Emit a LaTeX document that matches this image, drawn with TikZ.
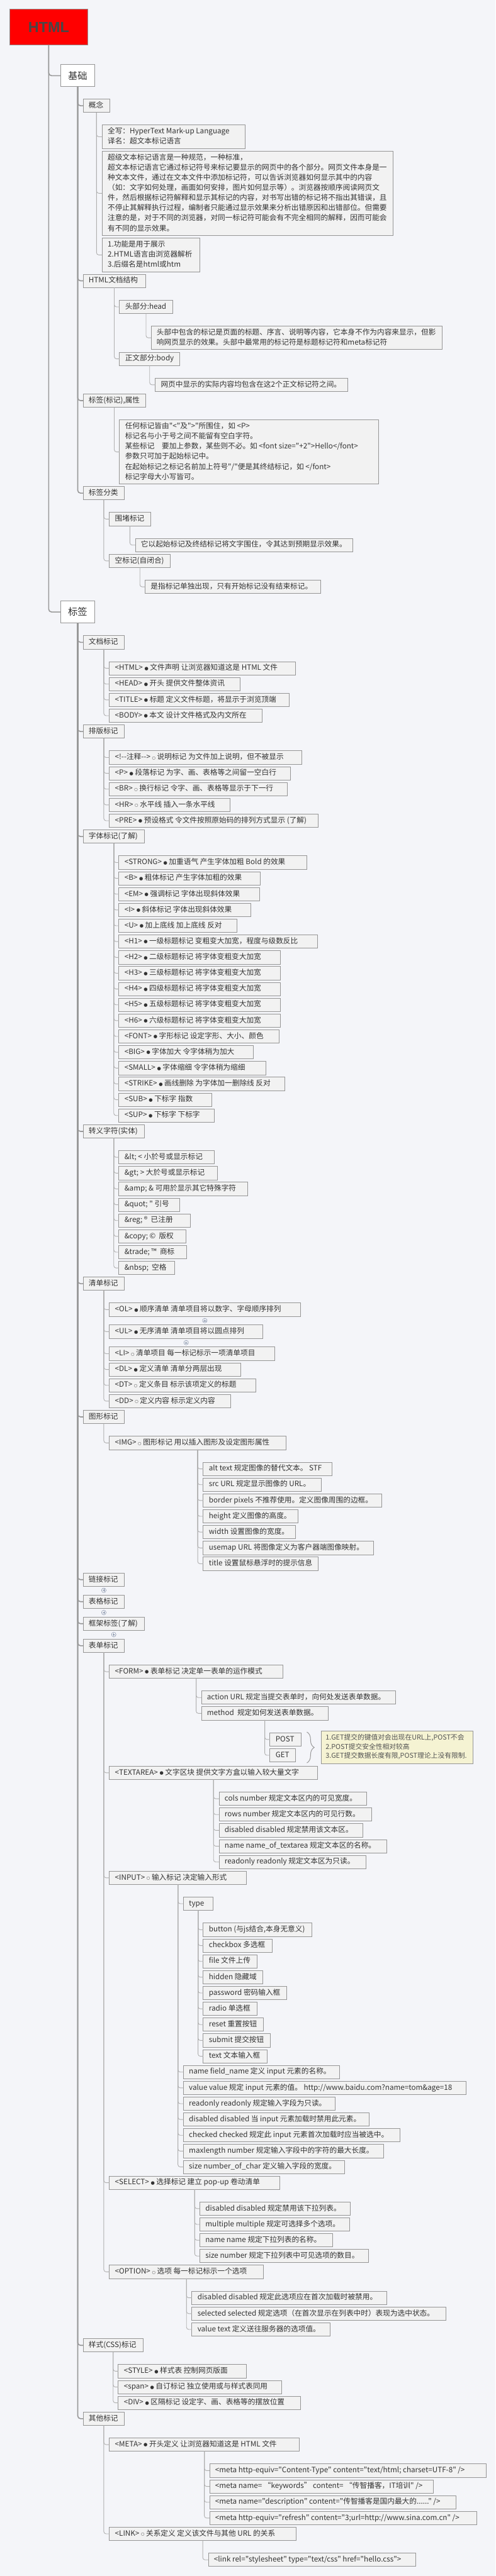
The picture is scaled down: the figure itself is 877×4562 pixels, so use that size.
\documentclass[tikz,border=0pt]{standalone}
\usepackage{fontspec}
\newfontfamily\cjk{Noto Sans CJK SC}
\newfontfamily\dejavu{DejaVu Sans}
\newfontfamily\lib{Liberation Sans}
\usetikzlibrary{decorations.pathreplacing}
\definecolor{bg}{HTML}{F4F5F9}
\definecolor{leaffill}{HTML}{F2F2F2}
\definecolor{boxc}{HTML}{959595}
\definecolor{trunkc}{HTML}{999999}
\definecolor{linec}{HTML}{B0B0B0}
\definecolor{textc}{HTML}{333333}
\definecolor{rootred}{HTML}{FF0000}
\definecolor{roottext}{HTML}{474747}
\definecolor{notefill}{HTML}{F5F3D3}
\definecolor{plusc}{HTML}{7F8CA6}
\newcommand\fb{\raisebox{0.6pt}{\dejavu\fontsize{8}{8}\selectfont ●}}
\newcommand\hb{\raisebox{0.3pt}{\dejavu\fontsize{7}{7}\selectfont ○}}
\tikzset{
  box/.style={draw=boxc, line width=0.9pt, fill=leaffill, text=textc,
    font=\cjk\fontsize{13}{18}\selectfont, inner xsep=10pt, inner ysep=2.8pt,
    anchor=west, outer sep=0pt},
  lvlone/.style={draw=boxc, line width=0.9pt, fill=white, text=textc,
    font=\cjk\fontsize{17}{20}\selectfont, minimum width=61pt, minimum height=39pt,
    inner sep=0pt, anchor=west, outer sep=0pt},
  rootbox/.style={draw=boxc, line width=0.9pt, fill=rootred, text=roottext,
    font=\lib\bfseries\fontsize{26}{26}\selectfont, minimum width=138.7pt,
    minimum height=64pt, inner sep=0pt, anchor=north west, outer sep=0pt},
  notebox/.style={draw=boxc, line width=0.9pt, fill=notefill, text=textc!85,
    font=\cjk\fontsize{12}{16}\selectfont, minimum width=269pt, minimum height=58pt,
    inner xsep=8pt, inner ysep=5pt, anchor=north west, outer sep=0pt},
  trunk/.style={draw=trunkc, line width=1.8pt, rounded corners=5pt},
  conn/.style={draw=linec, line width=1pt, rounded corners=4pt},
  bracestyle/.style={draw=trunkc, line width=1.1pt, decorate,
    decoration={brace, amplitude=13pt, aspect=0.5}},
  plusmark/.style={circle, draw=plusc, fill=white, minimum size=8pt, inner sep=0pt,
    line width=0.6pt, path picture={\draw[plusc, line width=0.6pt]
      ([xshift=-2.4pt]path picture bounding box.center) -- ([xshift=2.4pt]path picture bounding box.center)
      ([yshift=-2.4pt]path picture bounding box.center) -- ([yshift=2.4pt]path picture bounding box.center);}}
}
\newcommand\bx[5]{\node[box] (#1) at (#2,#3)
  {\makebox[\dimexpr#4pt-20pt\relax][l]{\begin{tabular}{@{}l@{}}#5\end{tabular}}};}
\newcommand\kids[2]{\foreach \c in {#2}{\draw[conn] (#1.south) |- (\c.west);}}
\newcommand\tkids[2]{\foreach \c in {#2}{\draw[trunk] (#1.south) |- (\c.west);}}
\begin{document}
\begin{tikzpicture}[x=1pt,y=-1pt]
\useasboundingbox (0,0) rectangle (877,4562);
\fill[bg] (0,0) rectangle (877,4562);

\node[rootbox] (root) at (16.8,16) {HTML};
\node[lvlone] (jc) at (107,134) {基础};
\node[lvlone] (bq) at (107,1083.8) {标签};

% ---------------- 基础 ----------------
\bx{gn}{147}{187.3}{47.6}{概念}
\bx{gn1}{180.6}{242.2}{252.8}{全写：HyperText Mark-up Language\\译名：超文本标记语言}
\bx{gn2}{180.6}{342.3}{514.6}{超级文本标记语言是一种规范，一种标准，\\
超文本标记语言它通过标记符号来标记要显示的网页中的各个部分。网页文件本身是一\\
种文本文件，通过在文本文件中添加标记符，可以告诉浏览器如何显示其中的内容\\
（如：文字如何处理，画面如何安排，图片如何显示等）。浏览器按顺序阅读网页文\\
件，然后根据标记符解释和显示其标记的内容，对书写出错的标记将不指出其错误，且\\
不停止其解释执行过程，编制者只能通过显示效果来分析出错原因和出错部位。但需要\\
注意的是，对于不同的浏览器，对同一标记符可能会有不完全相同的解释，因而可能会\\
有不同的显示效果。}
\bx{gn3}{180.6}{451.5}{172.9}{1.功能是用于展示\\2.HTML语言由浏览器解析\\3.后缀名是html或htm}
\bx{jg}{147}{497.3}{110.3}{HTML文档结构}
\bx{hd}{211.4}{543.5}{94}{头部分:head}
\bx{hdt}{267.3}{598.3}{514.6}{头部中包含的标记是页面的标题、序言、说明等内容，它本身不作为内容来显示，但影\\
响网页显示的效果。头部中最常用的标记符是标题标记符和meta标记符}
\bx{bd}{211.4}{635.5}{106.8}{正文部分:body}
\bx{bdt}{274.6}{681.5}{340.6}{网页中显示的实际内容均包含在这2个正文标记符之间。}
\bx{sx}{147}{709.5}{110.3}{标签(标记),属性}
\bx{sxt}{211.4}{800.3}{458.1}{任何标记皆由"<"及">"所围住，如 <P>\\
标记名与小于号之间不能留有空白字符。\\
某些标记　要加上参数，某些则不必。如 <font size="+2">Hello</font>\\
参数只可加于起始标记中。\\
在起始标记之标记名前加上符号"/"便是其终结标记，如 </font>\\
标记字母大小写皆可。}
\bx{fl}{147}{873.3}{73.4}{标签分类}
\bx{wd}{193.5}{919.3}{72.7}{围堵标记}
\bx{wdt}{239.4}{965.3}{384.8}{它以起始标记及终结标记将文字围住，令其达到预期显示效果。}
\bx{kb}{193.5}{993.3}{108}{空标记(自闭合)}
\bx{kbt}{256.7}{1039.3}{311}{是指标记单独出现，只有开始标记没有结束标记。}

% ---------------- 标签 ----------------
\bx{dm}{147}{1137.5}{73.4}{文档标记}
\bx{dm1}{193.5}{1183.5}{328.9}{<HTML> \fb{} 文件声明 让浏览器知道这是 HTML 文件}
\bx{dm2}{193.5}{1211.5}{231}{<HEAD> \fb{} 开头 提供文件整体资讯}
\bx{dm3}{193.5}{1239.5}{317.7}{<TITLE> \fb{} 标题 定义文件标题，将显示于浏览顶端}
\bx{dm4}{193.5}{1267.5}{270.7}{<BODY> \fb{} 本文 设计文件格式及内文所在}

\bx{pb}{147}{1295.5}{73.4}{排版标记}
\bx{pb1}{193.5}{1341.5}{340.1}{<!--注释--> \hb{} 说明标记 为文件加上说明，但不被显示}
\bx{pb2}{193.5}{1369.5}{319.9}{<P> \fb{} 段落标记 为字、画、表格等之间留一空白行}
\bx{pb3}{193.5}{1397.5}{314.9}{<BR> \hb{} 换行标记 令字、画、表格等显示于下一行}
\bx{pb4}{193.5}{1425.5}{213.1}{<HR> \hb{} 水平线 插入一条水平线}
\bx{pb5}{193.5}{1453.5}{369.7}{<PRE> \fb{} 预设格式 令文件按照原始码的排列方式显示 (了解)}

\bx{zt}{147}{1481.5}{108.6}{字体标记(了解)}
\bx{zt1}{210.3}{1527.5}{332.2}{<STRONG> \fb{} 加重语气 产生字体加粗 Bold 的效果}
\bx{zt2}{210.3}{1555.5}{250}{<B> \fb{} 粗体标记 产生字体加粗的效果}
\bx{zt3}{210.3}{1583.5}{248.9}{<EM> \fb{} 强调标记 字体出现斜体效果}
\bx{zt4}{210.3}{1611.5}{233.2}{<I> \fb{} 斜体标记 字体出现斜体效果}
\bx{zt5}{210.3}{1639.5}{209.2}{<U> \fb{} 加上底线 加上底线 反对}
\bx{zt6}{210.3}{1667.5}{351.2}{<H1> \fb{} 一级标题标记 变粗变大加宽，程度与级数反比}
\bx{zt7}{210.3}{1695.5}{286.3}{<H2> \fb{} 二级标题标记 将字体变粗变大加宽}
\bx{zt8}{210.3}{1723.5}{286.3}{<H3> \fb{} 三级标题标记 将字体变粗变大加宽}
\bx{zt9}{210.3}{1751.5}{286.3}{<H4> \fb{} 四级标题标记 将字体变粗变大加宽}
\bx{zt10}{210.3}{1779.5}{286.3}{<H5> \fb{} 五级标题标记 将字体变粗变大加宽}
\bx{zt11}{210.3}{1807.5}{286.3}{<H6> \fb{} 六级标题标记 将字体变粗变大加宽}
\bx{zt12}{210.3}{1835.5}{283}{<FONT> \fb{} 字形标记 设定字形、大小、颜色}
\bx{zt13}{210.3}{1863.5}{238.2}{<BIG> \fb{} 字体加大 令字体稍为加大}
\bx{zt14}{210.3}{1891.5}{260.1}{<SMALL> \fb{} 字体缩细 令字体稍为缩细}
\bx{zt15}{210.3}{1919.5}{293.1}{<STRIKE> \fb{} 画线删除 为字体加一删除线 反对}
\bx{zt16}{210.3}{1947.5}{163.9}{<SUB> \fb{} 下标字 指数}
\bx{zt17}{210.3}{1975.5}{168.9}{<SUP> \fb{} 下标字 下标字}

\bx{zy}{147}{2003.7}{108.6}{转义字符(实体)}
\bx{zy1}{210.3}{2049.5}{168.9}{\&lt; < 小於号或显示标记}
\bx{zy2}{210.3}{2077.5}{173.9}{\&gt; > 大於号或显示标记}
\bx{zy3}{210.3}{2105.5}{228.2}{\&amp; \& 可用於显示其它特殊字符}
\bx{zy4}{210.3}{2133.5}{107.9}{\&quot; " 引号}
\bx{zy5}{210.3}{2161.5}{126.4}{\&reg;\ ®\ \ 已注册}
\bx{zy6}{210.3}{2189.5}{119.1}{\&copy; ©\ \ 版权}
\bx{zy7}{210.3}{2217.5}{120.2}{\&trade; ™\ \ 商标}
\bx{zy8}{210.3}{2245.5}{99}{\&nbsp;\ \ 空格}

\bx{qd}{147}{2273.3}{73.4}{清单标记}
\bx{qd1}{193.5}{2319.3}{337.8}{<OL> \fb{} 顺序清单 清单项目将以数字、字母顺序排列}
\bx{qd2}{193.5}{2358.3}{271.8}{<UL> \fb{} 无序清单 清单项目将以圆点排列}
\bx{qd3}{193.5}{2397.3}{292}{<LI> \hb{} 清单项目 每一标记标示一项清单项目}
\bx{qd4}{193.5}{2425.3}{232.7}{<DL> \fb{} 定义清单 清单分两层出现}
\bx{qd5}{193.5}{2453.3}{259}{<DT> \hb{} 定义条目 标示该项定义的标题}
\bx{qd6}{193.5}{2481.3}{214.8}{<DD> \hb{} 定义内容 标示定义内容}
\node[plusmark] (pm1) at (362.4,2338.7) {};
\node[plusmark] (pm2) at (329.4,2377.7) {};

\bx{tx}{147}{2509.3}{73.4}{图形标记}
\bx{img}{193.5}{2555.3}{312.7}{<IMG> \hb{} 图形标记 用以插入图形及设定图形属性}
\bx{im1}{359.6}{2601.3}{227.6}{alt text 规定图像的替代文本。 STF}
\bx{im2}{359.6}{2629.3}{208.6}{src URL 规定显示图像的 URL。}
\bx{im3}{359.6}{2657.3}{316}{border pixels 不推荐使用。定义图像周围的边框。}
\bx{im4}{359.6}{2685.3}{167.8}{height 定义图像的高度。}
\bx{im5}{359.6}{2713.3}{162.8}{width 设置图像的宽度。}
\bx{im6}{359.6}{2741.3}{300.9}{usemap URL 将图像定义为客户器端图像映射。}
\bx{im7}{359.6}{2769.3}{203.6}{title 设置鼠标悬浮时的提示信息}

\bx{lj}{147}{2797.5}{73.4}{链接标记}
\node[plusmark] (pm3) at (183.7,2816.3) {};
\bx{bgg}{147}{2836.5}{73.4}{表格标记}
\node[plusmark] (pm4) at (183.7,2855.7) {};
\bx{kj}{147}{2875.5}{108.6}{框架标签(了解)}
\node[plusmark] (pm5) at (201.3,2894.7) {};

\bx{fm}{147}{2914.5}{73.4}{表单标记}
\bx{form}{193.5}{2960.5}{307.1}{<FORM> \fb{} 表单标记 决定单一表单的运作模式}
\bx{act}{356.3}{3006.3}{343.4}{action URL 规定当提交表单时，向何处发送表单数据。}
\bx{mth}{356.3}{3034.3}{224.2}{method\ \ 规定如何发送表单数据。}
\bx{post}{477.6}{3080.5}{55.4}{POST}
\bx{get}{477.6}{3108.5}{45.4}{GET}
\coordinate (bt) at (543,3067.3);
\coordinate (bb) at (543,3122);
\draw[bracestyle] (bt) -- (bb);
\node[notebox] (note) at (568.2,3065.3) {\makebox[253pt][l]{\begin{tabular}{@{}l@{}}1.GET提交的键值对会出现在URL上,POST不会\\2.POST提交安全性相对较高\\3.GET提交数据长度有限,POST理论上没有限制.\end{tabular}}};

\bx{ta}{193.5}{3139.5}{368.6}{<TEXTAREA> \fb{} 文字区块 提供文字方盒以输入较大量文字}
\bx{ta1}{387.6}{3185.5}{260.6}{cols number 规定文本区内的可见宽度。}
\bx{ta2}{387.6}{3213.5}{269.6}{rows number 规定文本区内的可见行数。}
\bx{ta3}{387.6}{3241.5}{253.9}{disabled disabled 规定禁用该文本区。}
\bx{ta4}{387.6}{3269.5}{297}{name name\_of\_textarea 规定文本区的名称。}
\bx{ta5}{387.6}{3297.5}{260.1}{readonly readonly 规定文本区为只读。}

\bx{inp}{193.5}{3325.5}{242.7}{<INPUT> \hb{} 输入标记 决定输入形式}
\bx{typ}{324.4}{3371.3}{52}{type}
\bx{ty1}{359.6}{3417.5}{191.9}{button (与js结合,本身无意义)}
\bx{ty2}{359.6}{3445.5}{122.5}{checkbox 多选框}
\bx{ty3}{359.6}{3473.5}{95.1}{file 文件上传}
\bx{ty4}{359.6}{3501.5}{105.7}{hidden 隐藏域}
\bx{ty5}{359.6}{3529.5}{147.7}{password 密码输入框}
\bx{ty6}{359.6}{3557.5}{95.1}{radio 单选框}
\bx{ty7}{359.6}{3585.5}{106.8}{reset 重置按钮}
\bx{ty8}{359.6}{3613.5}{118.6}{submit 提交按钮}
\bx{ty9}{359.6}{3641.5}{113.6}{text 文本输入框}
\bx{in1}{324.4}{3669.5}{276.8}{name field\_name 定义 input 元素的名称。}
\bx{in2}{324.4}{3697.5}{500}{value value 规定 input 元素的值。 http://www.baidu.com?name=tom\&age=18}
\bx{in3}{324.4}{3725.5}{269}{readonly readonly 规定输入字段为只读。}
\bx{in4}{324.4}{3753.5}{328.8}{disabled disabled 当 input 元素加载时禁用此元素。}
\bx{in5}{324.4}{3781.5}{383.1}{checked checked 规定此 input 元素首次加载时应当被选中。}
\bx{in6}{324.4}{3809.5}{354}{maxlength number 规定输入字段中的字符的最大长度。}
\bx{in7}{324.4}{3837.5}{285.2}{size number\_of\_char 定义输入字段的宽度。}

\bx{sel}{193.5}{3865.5}{302}{<SELECT> \fb{} 选择标记 建立 pop-up 卷动清单}
\bx{se1}{353.5}{3911.3}{266.7}{disabled disabled 规定禁用该下拉列表。}
\bx{se2}{353.5}{3939.3}{265.1}{multiple multiple 规定可选择多个选项。}
\bx{se3}{353.5}{3967.3}{234.9}{name name 规定下拉列表的名称。}
\bx{se4}{353.5}{3995.3}{298.1}{size number 规定下拉列表中可见选项的数目。}

\bx{opt}{193.5}{4023.3}{272.9}{<OPTION> \hb{} 选项 每一标记标示一个选项}
\bx{op1}{339.5}{4069.3}{345.1}{disabled disabled 规定此选项应在首次加载时被禁用。}
\bx{op2}{339.5}{4097.3}{449.1}{selected selected 规定选项（在首次显示在列表中时）表现为选中状态。}
\bx{op3}{339.5}{4125.3}{244.9}{value text 定义送往服务器的选项值。}

\bx{css}{147}{4153.5}{106.4}{样式(CSS)标记}
\bx{cs1}{209.2}{4199.3}{227}{<STYLE> \fb{} 样式表 控制网页版面}
\bx{cs2}{209.2}{4227.3}{289.1}{<span> \fb{} 自订标记 独立使用或与样式表同用}
\bx{cs3}{209.2}{4255.3}{322.1}{<DIV> \fb{} 区隔标记 设定字、画、表格等的摆放位置}

\bx{qt}{147}{4283.3}{73.4}{其他标记}
\bx{meta}{193.5}{4329.3}{336.1}{<META> \fb{} 开头定义 让浏览器知道这是 HTML 文件}
\bx{me1}{370.8}{4375.3}{489.4}{<meta http-equiv="Content-Type" content="text/html; charset=UTF-8" />}
\bx{me2}{370.8}{4403.3}{396}{<meta name= “keywords” content= “传智播客，IT培训" />}
\bx{me3}{370.8}{4431.3}{435.7}{<meta name="description" content="传智播客是国内最大的......" />}
\bx{me4}{370.8}{4459.3}{472.6}{<meta http-equiv="refresh" content="3;url=http://www.sina.com.cn" />}
\bx{link}{193.5}{4487.3}{330.5}{<LINK> \hb{} 关系定义 定义该文件与其他 URL 的关系}
\bx{li1}{368.6}{4533.3}{367.4}{<link rel="stylesheet" type="text/css" href="hello.css">}

% ---------------- connectors ----------------
\tkids{root}{jc,bq}
\tkids{jc}{gn,jg,sx,fl}
\tkids{bq}{dm,pb,zt,zy,qd,tx,lj,bgg,kj,fm,css,qt}
\kids{gn}{gn1,gn2,gn3}
\kids{jg}{hd,bd}
\kids{hd}{hdt}
\kids{bd}{bdt}
\kids{sx}{sxt}
\kids{fl}{wd,kb}
\kids{wd}{wdt}
\kids{kb}{kbt}
\kids{dm}{dm1,dm2,dm3,dm4}
\kids{pb}{pb1,pb2,pb3,pb4,pb5}
\kids{zt}{zt1,zt2,zt3,zt4,zt5,zt6,zt7,zt8,zt9,zt10,zt11,zt12,zt13,zt14,zt15,zt16,zt17}
\kids{zy}{zy1,zy2,zy3,zy4,zy5,zy6,zy7,zy8}
\kids{qd}{qd1,qd2,qd3,qd4,qd5,qd6}
\kids{tx}{img}
\kids{img}{im1,im2,im3,im4,im5,im6,im7}
\kids{fm}{form,ta,inp,sel,opt}
\kids{form}{act,mth}
\kids{mth}{post,get}
\kids{ta}{ta1,ta2,ta3,ta4,ta5}
\kids{inp}{typ,in1,in2,in3,in4,in5,in6,in7}
\kids{typ}{ty1,ty2,ty3,ty4,ty5,ty6,ty7,ty8,ty9}
\kids{sel}{se1,se2,se3,se4}
\kids{opt}{op1,op2,op3}
\kids{css}{cs1,cs2,cs3}
\kids{qt}{meta,link}
\kids{meta}{me1,me2,me3,me4}
\kids{link}{li1}
\end{tikzpicture}
\end{document}
